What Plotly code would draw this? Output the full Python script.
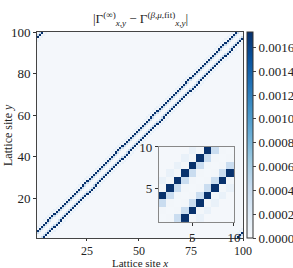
import plotly.graph_objects as go

# ---- data ----
N_SITES = 100
# |difference| as a function of periodic lattice distance |x - y|
distance_profile = [2.0e-5, 3.0e-5, 4.0e-4, 1.72e-3, 3.0e-5, 1.1e-4]
background_value = 1.2e-5
INSET_SITES = 10

x_ticks_main = [25, 50, 75, 100]
y_ticks_main = [20, 40, 60, 80, 100]
inset_ticks = [5, 10]
cbar_ticks = [0.0000, 0.0002, 0.0004, 0.0006, 0.0008, 0.0010, 0.0012, 0.0014, 0.0016]
z_max = 0.00173

blues = ["rgb(245,248,251)", "rgb(222,235,247)", "rgb(198,219,239)", "rgb(158,202,225)",
         "rgb(107,174,214)", "rgb(66,146,198)", "rgb(33,113,181)", "rgb(8,81,156)", "rgb(8,48,107)"]


def build_matrix(n_view, n_total):
    z = []
    for j in range(n_view):
        row = []
        for i in range(n_view):
            d = abs(i - j)
            d = min(d, n_total - d)
            row.append(distance_profile[d] if d < len(distance_profile) else background_value)
        z.append(row)
    return z


z_main = build_matrix(N_SITES, N_SITES)
z_inset = build_matrix(INSET_SITES, N_SITES)

colorscale = [[k / (len(blues) - 1), c] for k, c in enumerate(blues)]
FONT = "Liberation Serif"
TXT = "#222"

fig = go.Figure()
dx_main = (N_SITES - 1) / N_SITES
fig.add_trace(go.Heatmap(
    z=z_main, x0=1 + dx_main / 2, dx=dx_main, y0=1 + dx_main / 2, dy=dx_main,
    colorscale=colorscale, zmin=0, zmax=z_max,
    colorbar=dict(x=1.019, xanchor="left", xref="paper", y=0.5, yanchor="middle",
                  yref="paper", len=1.0, lenmode="fraction", thickness=6,
                  outlinewidth=1, outlinecolor="#333", xpad=0, ypad=0,
                  tickvals=cbar_ticks, tickformat=".4f", ticks="outside", ticklen=3,
                  tickfont=dict(family=FONT, size=13, color=TXT)),
    xaxis="x", yaxis="y", hoverinfo="skip"))

dx_in = (INSET_SITES - 1) / INSET_SITES
fig.add_trace(go.Heatmap(
    z=z_inset, x0=1 + dx_in / 2, dx=dx_in, y0=1 + dx_in / 2, dy=dx_in,
    colorscale=colorscale, zmin=0, zmax=z_max, showscale=False,
    xaxis="x2", yaxis="y2", hoverinfo="skip"))

axis_common = dict(showgrid=False, zeroline=False, showline=True, mirror=True,
                   ticks="outside", tickcolor="#333")

fig.update_layout(
    width=293, height=268,
    margin=dict(l=37, r=50, t=32, b=30, autoexpand=False),
    paper_bgcolor="white", plot_bgcolor="white",
    showlegend=False,
    xaxis=dict(domain=[0, 1], range=[1, N_SITES], tickvals=x_ticks_main, ticklen=2,
               linecolor="#444", linewidth=1, automargin=False,
               tickfont=dict(family=FONT, size=12, color=TXT), **axis_common),
    yaxis=dict(domain=[0, 1], range=[1, N_SITES], tickvals=y_ticks_main, ticklen=3,
               linecolor="#444", linewidth=1, automargin=False,
               tickfont=dict(family=FONT, size=13, color=TXT), **axis_common),
    xaxis2=dict(domain=[0.592, 0.956], range=[1, INSET_SITES], tickvals=inset_ticks, anchor="y2",
                linecolor="#888", linewidth=1, ticklen=3,
                tickfont=dict(family=FONT, size=13, color=TXT), **axis_common),
    yaxis2=dict(domain=[0.078, 0.442], range=[1, INSET_SITES], tickvals=inset_ticks, anchor="x2",
                linecolor="#888", linewidth=1, ticklen=3,
                tickfont=dict(family=FONT, size=13, color=TXT), **axis_common),
    annotations=[
        dict(text="|Γ<sup>(∞)</sup><sub><i>x,y</i></sub> − Γ<sup>(<i>β,μ</i>,fit)</sup><sub><i>x,y</i></sub>|",
             xref="paper", yref="paper", x=0.5, y=1.0, xanchor="center", yanchor="bottom",
             yshift=2, showarrow=False, font=dict(family=FONT, size=13, color=TXT)),
        dict(text="Lattice site <i>x</i>", xref="paper", yref="paper", x=0.5, y=0,
             xanchor="center", yanchor="middle", yshift=-25, showarrow=False,
             font=dict(family=FONT, size=11, color=TXT)),
        dict(text="Lattice site <i>y</i>", xref="paper", yref="paper", x=0, y=0.5,
             xanchor="center", yanchor="middle", xshift=-29, textangle=-90, showarrow=False,
             font=dict(family=FONT, size=12, color=TXT)),
    ],
)

fig.write_html("out.html", config={"displayModeBar": False},
               post_script="document.body.style.margin='0px';document.body.style.padding='0px';")
